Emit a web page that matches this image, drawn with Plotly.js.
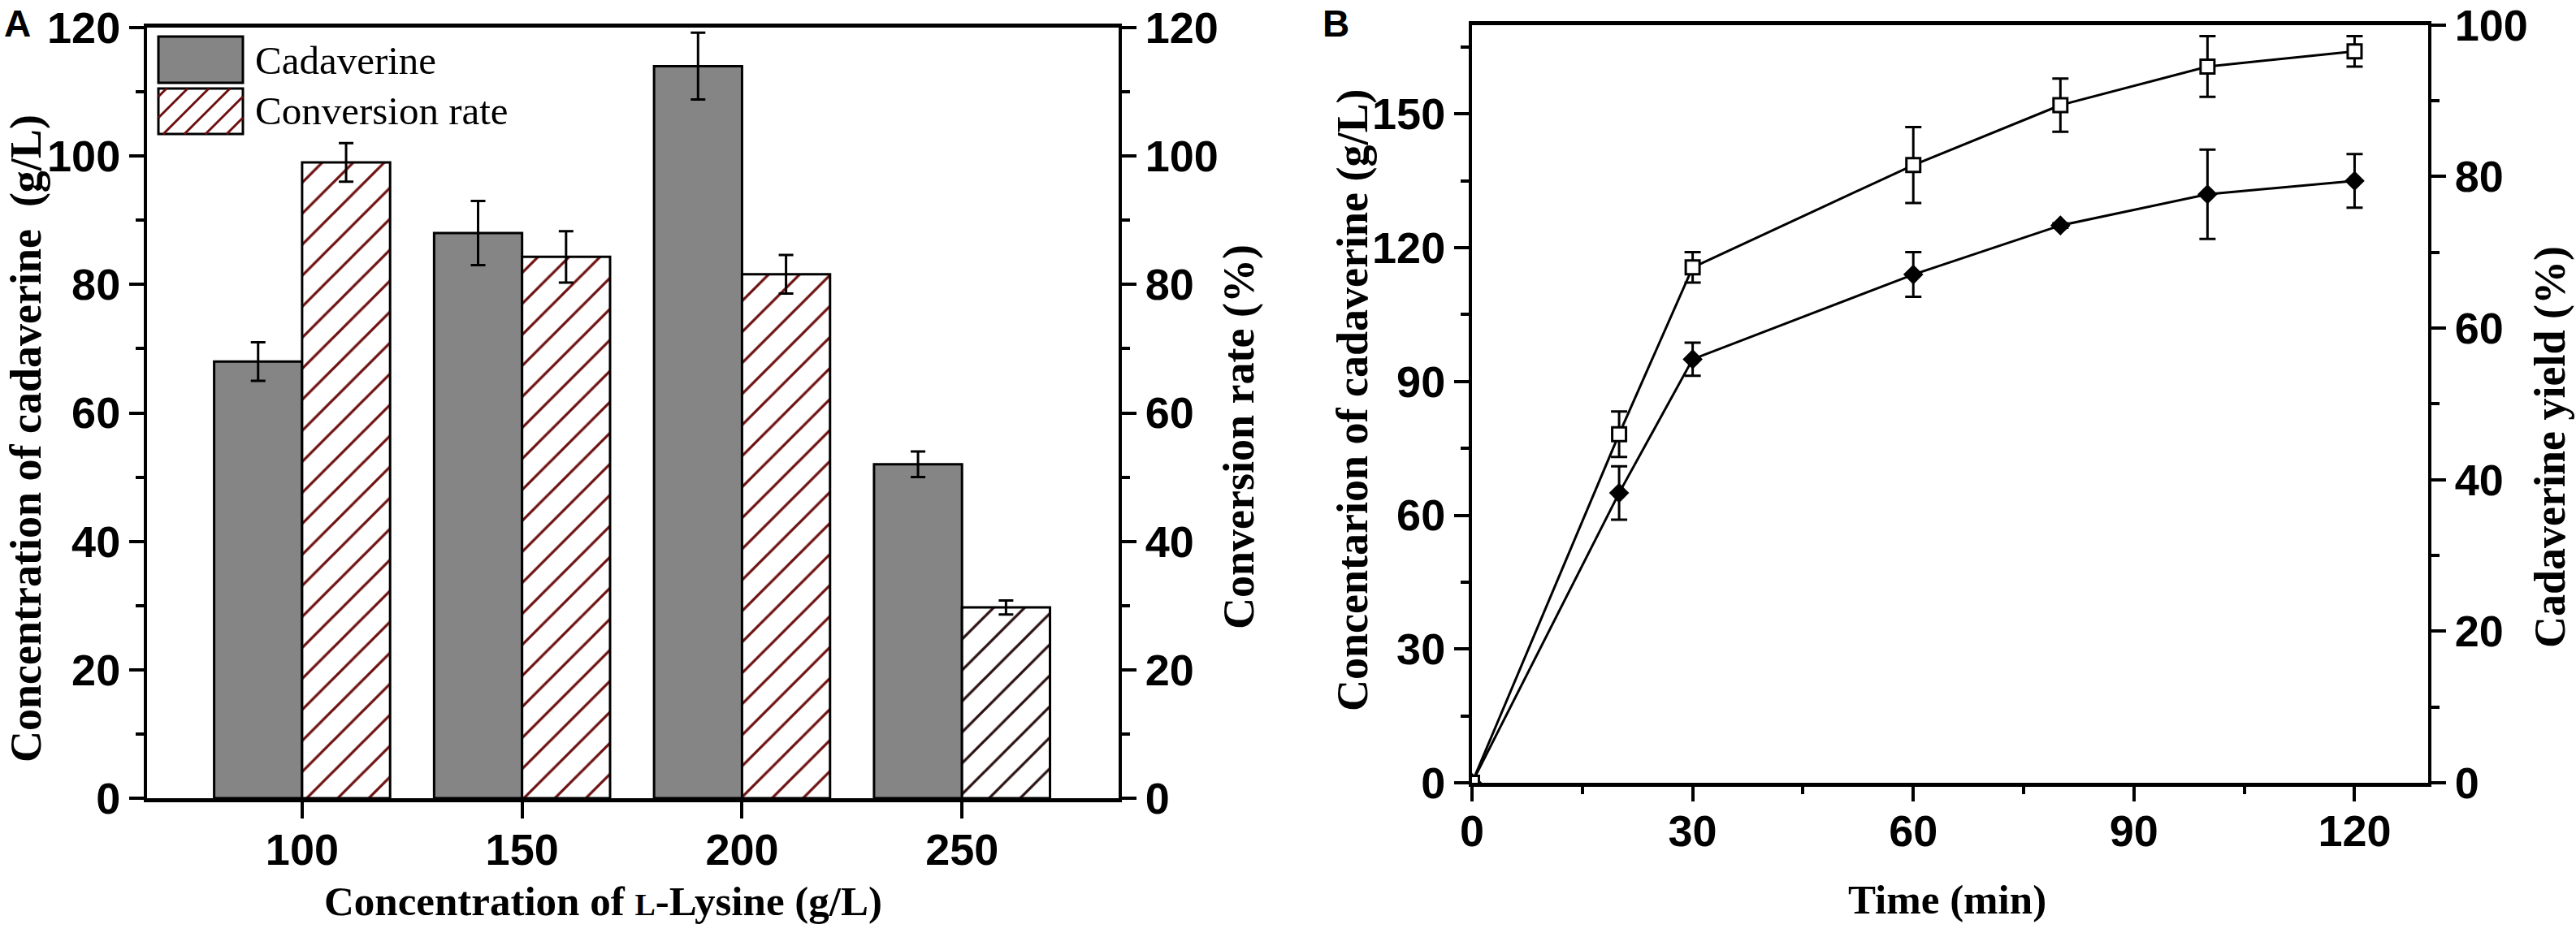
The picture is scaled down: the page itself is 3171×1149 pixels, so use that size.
<!DOCTYPE html>
<html>
<head>
<meta charset="utf-8">
<script src="https://cdn.plot.ly/plotly-3.0.1.min.js"></script>
<style>body{margin:0;background:#fff}</style>
</head>
<body>
<div id="chart"></div>
<script>
// Panel A: cadaverine vs L-lysine feed
var lysine = ['100', '150', '200', '250']
var cadaverine = [68, 88, 114, 52]
var cadaverine_err = [3, 5, 5.2, 2]
var conversion = [99, 84.3, 81.6, 29.7]
var conversion_err = [3, 4, 3, 1.1]

// Panel B: time course
var time_min = [0, 20, 30, 60, 80, 100, 120]
var conc = [0, 65, 95, 114, 125, 132, 135]
var conc_err = [0, 6, 3.7, 5, 0.5, 10, 6]
var yield_pct = [0, 46, 68, 81.5, 89.4, 94.5, 96.5]
var yield_err = [0, 3, 2, 5, 3.5, 4, 2]

var W = 3171, H = 1149
function px(x){ return x / W }
function py(y){ return 1 - y / H }

var tick_font = {family: 'Liberation Sans Narrow, Arial Narrow, sans-serif', size: 54, color: 'black', weight: 'bold'}
var title_font = {family: 'Liberation Serif, Times New Roman, serif', size: 54, color: 'black', weight: 'bold'}
var xtitle_font = {family: 'Liberation Serif, Times New Roman, serif', size: 51, color: 'black', weight: 'bold'}
var legend_font = {family: 'Liberation Serif, Times New Roman, serif', size: 49, color: 'black'}

function axis_style(extra){
    var base = {
        showline: true, linewidth: 4, linecolor: 'black',
        ticks: 'outside', ticklen: 18, tickwidth: 4, tickcolor: 'black',
        showgrid: false, zeroline: false, tickfont: tick_font, fixedrange: true
    }
    return Object.assign(base, extra)
}

var traces = [
    {
        x: lysine, y: cadaverine, type: 'bar', name: 'Cadaverine',
        xaxis: 'x', yaxis: 'y', offset: -0.4, width: 0.4,
        marker: {color: '#858585', line: {color: 'black', width: 3}},
        error_y: {type: 'data', array: cadaverine_err, color: 'black', thickness: 3, width: 9}
    },
    {
        x: lysine, y: conversion, type: 'bar', name: 'Conversion rate',
        xaxis: 'x', yaxis: 'y2', offset: 0, width: 0.4,
        marker: {
            color: 'white', line: {color: 'black', width: 3},
            pattern: {shape: '/', fgcolor: ['#6e1010', '#6e1010', '#6e1010', '#2a1010'], bgcolor: 'white', size: 27, solidity: 0.12, fillmode: 'replace'}
        },
        error_y: {type: 'data', array: conversion_err, color: 'black', thickness: 3, width: 9}
    },
    {
        x: time_min, y: conc, type: 'scatter', mode: 'lines+markers',
        xaxis: 'x2', yaxis: 'y3',
        line: {color: 'black', width: 3},
        marker: {symbol: 'diamond', size: 19, color: 'black'},
        error_y: {type: 'data', array: conc_err, color: 'black', thickness: 3, width: 10}
    },
    {
        x: time_min, y: yield_pct, type: 'scatter', mode: 'lines+markers',
        xaxis: 'x2', yaxis: 'y4',
        line: {color: 'black', width: 3},
        marker: {symbol: 'square', size: 17, color: 'white', line: {color: 'black', width: 3}},
        error_y: {type: 'data', array: yield_err, color: 'black', thickness: 3, width: 10}
    }
]

// hand-drawn legend swatches for panel A (plotly's legend symbols are too small)
var sw = {x0: 195, x1: 299, y0: 45, y1: 102, y2: 109, y3: 165}
var hatch = ''
for (var c = sw.x0 + sw.y2 + 10; c < sw.x1 + sw.y3; c += 26){
    var xa = Math.max(sw.x0, c - sw.y3), xb = Math.min(sw.x1, c - sw.y2)
    if (xb <= xa) continue
    hatch += 'M' + px(xa) + ',' + py(c - xa) + 'L' + px(xb) + ',' + py(c - xb)
}

var shapes = [
    {type: 'rect', xref: 'paper', yref: 'paper', x0: px(sw.x0), x1: px(sw.x1), y0: py(sw.y1), y1: py(sw.y0),
     fillcolor: '#858585', line: {color: 'black', width: 3}},
    {type: 'rect', xref: 'paper', yref: 'paper', x0: px(sw.x0), x1: px(sw.x1), y0: py(sw.y3), y1: py(sw.y2),
     fillcolor: 'white', line: {color: 'black', width: 3}},
    {type: 'path', xref: 'paper', yref: 'paper', path: hatch, line: {color: '#6e1010', width: 3}}
]

function note(text, x, y, font, angle, xanchor){
    return {text: text, x: px(x), y: py(y), xref: 'paper', yref: 'paper', showarrow: false,
            font: font, textangle: angle || 0, xanchor: xanchor || 'center', yanchor: 'middle'}
}

var panel_font = {family: 'Liberation Sans, Arial', size: 46, color: 'black', weight: 'bold'}
var annotations = [
    note('A', 21, 29, panel_font),
    note('B', 1644, 29, panel_font),
    note('Cadaverine', 312, 74, legend_font, 0, 'left'),
    note('Conversion rate', 312, 137, legend_font, 0, 'left'),
    note('Concentration of cadaverine&nbsp; (g/L)', 32, 540, title_font, -90),
    note('Conversion rate (%)', 1525, 538, title_font, -90),
    note('Concentration of <span style="font-size:38px">L</span>-Lysine (g/L)', 742, 1110, xtitle_font),
    note('Concentarion of cadaverine (g/L)', 1665, 493, title_font, -90),
    note('Cadaverine yield (%)', 3139, 551, title_font, -90),
    note('Time (min)', 2397, 1108, xtitle_font)
]

var layout = {
    width: W, height: H,
    margin: {l: 0, r: 0, t: 0, b: 0},
    paper_bgcolor: 'white', plot_bgcolor: 'white',
    showlegend: false,
    xaxis: axis_style({domain: [px(181), px(1377)], anchor: 'y', type: 'category',
        range: [-0.705, 3.712], mirror: true, ticklen: 20, linewidth: 5, ticklabelstandoff: -8}),
    yaxis: axis_style({domain: [py(983), py(34)], anchor: 'x', range: [0, 120], dtick: 20,
        minor: {dtick: 10, ticks: 'outside', ticklen: 10, tickwidth: 4, tickcolor: 'black'}}),
    yaxis2: axis_style({overlaying: 'y', side: 'right', anchor: 'x', range: [0, 120], dtick: 20,
        minor: {dtick: 10, ticks: 'outside', ticklen: 10, tickwidth: 4, tickcolor: 'black'}}),
    xaxis2: axis_style({domain: [px(1812), px(2989)], anchor: 'y3', range: [0, 130], dtick: 30,
        mirror: true, linewidth: 5, ticklabelstandoff: -10,
        minor: {dtick: 15, ticks: 'outside', ticklen: 9, tickwidth: 4, tickcolor: 'black'}}),
    yaxis3: axis_style({domain: [py(964), py(30.6)], anchor: 'x2', range: [0, 170], dtick: 30,
        minor: {dtick: 15, ticks: 'outside', ticklen: 10, tickwidth: 4, tickcolor: 'black'}}),
    yaxis4: axis_style({overlaying: 'y3', side: 'right', anchor: 'x2', range: [0, 100], dtick: 20,
        minor: {dtick: 10, ticks: 'outside', ticklen: 10, tickwidth: 4, tickcolor: 'black'}}),
    shapes: shapes,
    annotations: annotations
}

Plotly.newPlot('chart', traces, layout, {displayModeBar: false, staticPlot: true})
</script>
</body>
</html>
